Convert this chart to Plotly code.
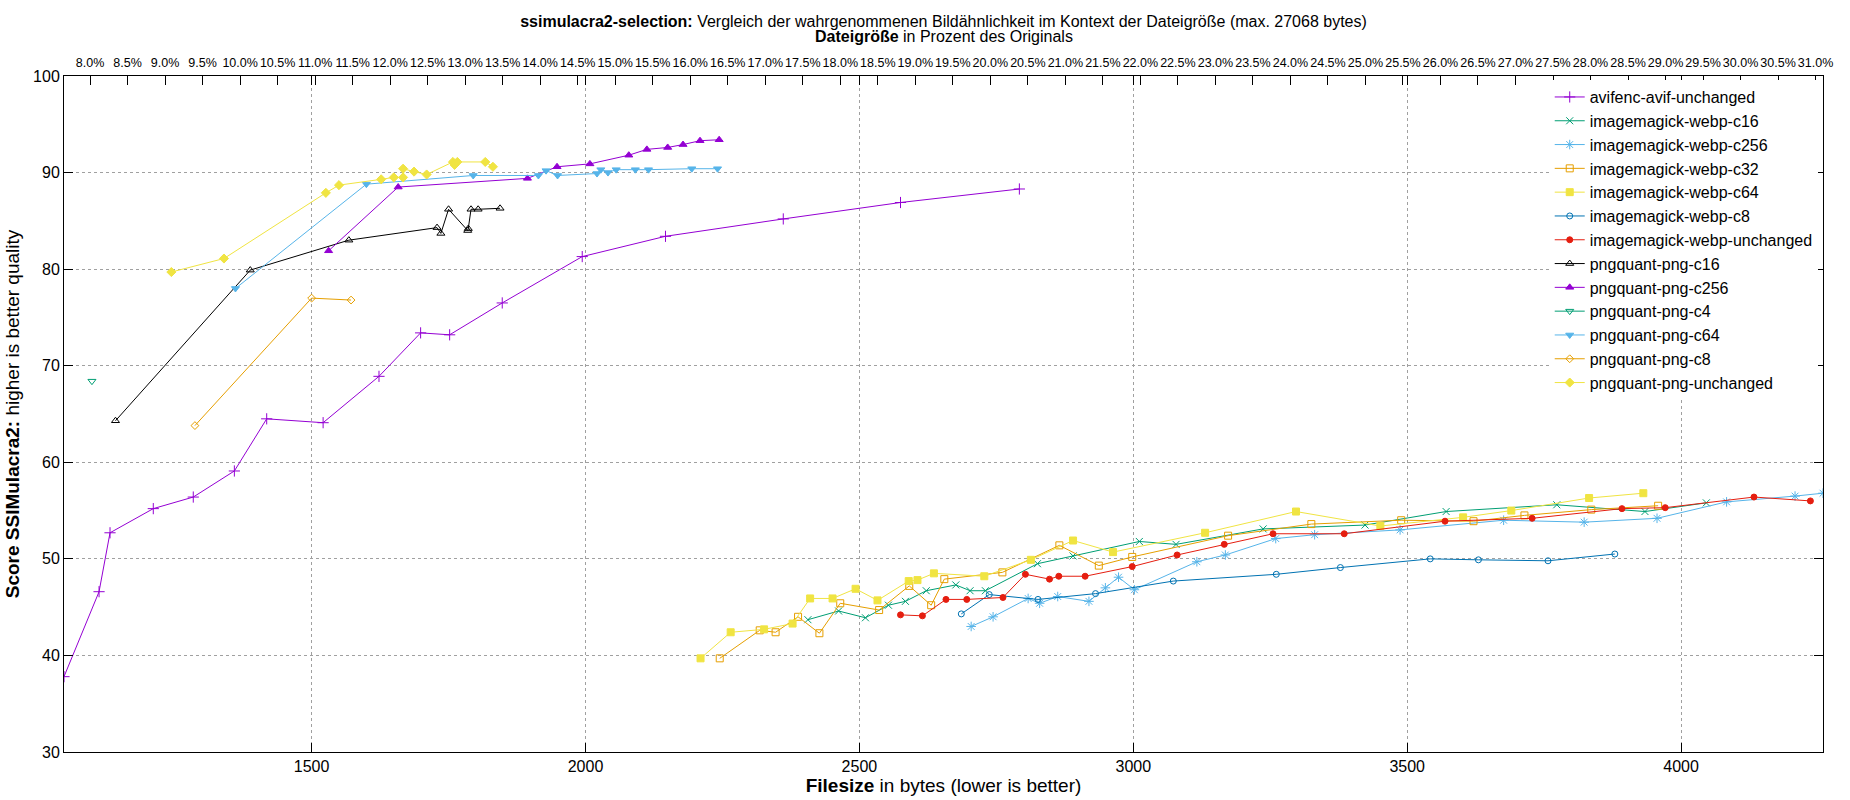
import plotly.graph_objects as go

# filesize in bytes / SSIMulacra2 score, one pair of lists per encoder setting
avif_unchanged_bytes = [1048, 1112, 1132, 1211, 1284, 1359, 1418, 1521, 1623, 1699, 1752, 1848, 1994, 2146, 2361, 2575, 2792]
avif_unchanged_score = [37.8, 46.6, 52.7, 55.2, 56.4, 59.1, 64.5, 64.1, 68.9, 73.4, 73.2, 76.5, 81.3, 83.4, 85.2, 86.9, 88.3]

webp_c16_bytes = [2406, 2462, 2511, 2553, 2584, 2622, 2676, 2702, 2730, 2825, 2890, 3011, 3078, 3237, 3423, 3571, 3773, 3934, 4046]
webp_c16_score = [43.7, 44.6, 43.9, 45.2, 45.6, 46.7, 47.3, 46.7, 46.7, 49.5, 50.3, 51.8, 51.5, 53.1, 53.5, 54.9, 55.6, 54.9, 55.8]

webp_c256_bytes = [2704, 2744, 2808, 2829, 2862, 2919, 2949, 2973, 3002, 3116, 3168, 3260, 3331, 3487, 3676, 3823, 3956, 4083, 4208, 4259]
webp_c256_score = [43.0, 44.0, 45.9, 45.4, 46.1, 45.6, 47.0, 48.1, 46.8, 49.7, 50.4, 52.1, 52.5, 53.0, 54.0, 53.8, 54.2, 55.9, 56.5, 56.8]

webp_c32_bytes = [2245, 2318, 2347, 2388, 2427, 2465, 2536, 2591, 2631, 2655, 2761, 2865, 2937, 2998, 3173, 3325, 3489, 3621, 3714, 3836, 3958]
webp_c32_score = [39.7, 42.6, 42.4, 44.0, 42.3, 45.4, 44.7, 47.2, 45.2, 47.9, 48.6, 51.4, 49.3, 50.2, 52.4, 53.6, 54.0, 53.9, 54.5, 55.1, 55.5]

webp_c64_bytes = [2210, 2265, 2326, 2378, 2410, 2451, 2493, 2533, 2590, 2606, 2636, 2728, 2813, 2890, 2963, 3131, 3297, 3451, 3602, 3690, 3832, 3931]
webp_c64_score = [39.7, 42.4, 42.7, 43.3, 45.9, 45.9, 46.9, 45.7, 47.7, 47.8, 48.5, 48.2, 49.9, 51.9, 50.7, 52.7, 54.9, 53.4, 54.3, 55.0, 56.3, 56.8]

webp_c8_bytes = [2686, 2737, 2826, 2931, 3073, 3261, 3378, 3542, 3630, 3757, 3879]
webp_c8_score = [44.3, 46.3, 45.8, 46.4, 47.7, 48.4, 49.1, 50.0, 49.9, 49.8, 50.5]

webp_unchanged_bytes = [2575, 2615, 2658, 2696, 2762, 2803, 2847, 2864, 2912, 2998, 3080, 3166, 3255, 3385, 3569, 3728, 3892, 3971, 4133, 4236]
webp_unchanged_score = [44.2, 44.1, 45.8, 45.8, 46.0, 48.4, 47.9, 48.2, 48.2, 49.2, 50.4, 51.5, 52.6, 52.6, 53.9, 54.2, 55.2, 55.3, 56.4, 56.0]

png_c16_bytes = [1142, 1388, 1568, 1729, 1736, 1750, 1785, 1786, 1791, 1804, 1844]
png_c16_score = [64.3, 79.9, 83.0, 84.3, 83.7, 86.2, 84.0, 84.2, 86.2, 86.2, 86.3]

png_c256_bytes = [1531, 1658, 1894, 1948, 2008, 2079, 2112, 2150, 2178, 2209, 2244]
png_c256_score = [81.9, 88.5, 89.4, 90.6, 90.9, 91.8, 92.4, 92.6, 92.9, 93.3, 93.4]

png_c4_bytes = [1099]
png_c4_score = [68.4]

png_c64_bytes = [1361, 1600, 1795, 1914, 1928, 1949, 2021, 2028, 2041, 2056, 2091, 2115, 2194, 2241]
png_c64_score = [78.0, 88.8, 89.7, 89.7, 90.2, 89.7, 89.9, 90.3, 90.0, 90.3, 90.3, 90.3, 90.4, 90.4]

png_c8_bytes = [1287, 1500, 1572]
png_c8_score = [63.8, 77.0, 76.8]

png_unchanged_bytes = [1244, 1340, 1526, 1550, 1627, 1650, 1667, 1667, 1687, 1710, 1758, 1761, 1766, 1817, 1831]
png_unchanged_score = [79.7, 81.1, 87.9, 88.7, 89.3, 89.5, 89.5, 90.4, 90.1, 89.8, 91.1, 90.8, 91.1, 91.1, 90.6]

# byte count the top percentage axis refers to
percent_base_bytes = 13695
pct_ticks = [8.0 + 0.5 * i for i in range(47)]

font = "Liberation Sans, Arial, sans-serif"

# name, x, y, colour, marker symbol, marker size (gnuplot point types 1..13)
series = [
    ("avifenc-avif-unchanged", avif_unchanged_bytes, avif_unchanged_score, "#9400d3", "cross-thin-open", 8),
    ("imagemagick-webp-c16", webp_c16_bytes, webp_c16_score, "#009e73", "x-thin-open", 7),
    ("imagemagick-webp-c256", webp_c256_bytes, webp_c256_score, "#56b4e9", "asterisk-open", 8),
    ("imagemagick-webp-c32", webp_c32_bytes, webp_c32_score, "#e69f00", "square-open", 7),
    ("imagemagick-webp-c64", webp_c64_bytes, webp_c64_score, "#f0e442", "square", 7),
    ("imagemagick-webp-c8", webp_c8_bytes, webp_c8_score, "#0072b2", "circle-open", 6),
    ("imagemagick-webp-unchanged", webp_unchanged_bytes, webp_unchanged_score, "#e51e10", "circle", 6),
    ("pngquant-png-c16", png_c16_bytes, png_c16_score, "#000000", "triangle-up-open", 7),
    ("pngquant-png-c256", png_c256_bytes, png_c256_score, "#9400d3", "triangle-up", 7),
    ("pngquant-png-c4", png_c4_bytes, png_c4_score, "#009e73", "triangle-down-open", 7),
    ("pngquant-png-c64", png_c64_bytes, png_c64_score, "#56b4e9", "triangle-down", 7),
    ("pngquant-png-c8", png_c8_bytes, png_c8_score, "#e69f00", "diamond-open", 6),
    ("pngquant-png-unchanged", png_unchanged_bytes, png_unchanged_score, "#f0e442", "diamond", 7),
]

fig = go.Figure()
for name, xs, ys, color, symbol, size in series:
    fig.add_trace(
        go.Scatter(
            x=xs,
            y=ys,
            mode="lines+markers",
            name=name,
            line=dict(color=color, width=1),
            marker=dict(symbol=symbol, size=size, color=color, line=dict(color=color, width=1)),
        )
    )

# autoscale x like gnuplot: exactly from smallest to largest file
all_x = [v for s in series for v in s[1]]
x_min, x_max = min(all_x), max(all_x)

# the same files on the percentage axis (invisible, only so the top axis is drawn)
fig.add_trace(
    go.Scatter(
        x=[v / percent_base_bytes * 100 for v in all_x],
        y=[v for s in series for v in s[2]],
        xaxis="x2",
        mode="markers",
        marker=dict(opacity=0),
        hoverinfo="skip",
        showlegend=False,
    )
)

axis_common = dict(
    ticks="inside",
    ticklen=9,
    tickcolor="black",
    zeroline=False,
    automargin=False,
)

fig.update_layout(
    width=1850,
    height=800,
    margin=dict(l=64, r=27, t=76, b=48),
    plot_bgcolor="white",
    paper_bgcolor="white",
    font=dict(family=font, size=16, color="black"),
    title=dict(
        text="<b>ssimulacra2-selection:</b> Vergleich der wahrgenommenen Bildähnlichkeit im Kontext der Dateigröße (max. 27068 bytes)",
        x=0.5,
        xref="paper",
        xanchor="center",
        y=1 - 21 / 800,
        yref="container",
        yanchor="middle",
        font=dict(size=16),
        automargin=False,
    ),
    xaxis=dict(
        range=[x_min, x_max],
        dtick=500,
        tick0=1500,
        showline=True,
        linecolor="black",
        linewidth=1,
        mirror="ticks",
        showgrid=True,
        gridcolor="#a0a0a0",
        griddash="dot",
        gridwidth=1,
        title=dict(text="<b>Filesize</b> in bytes (lower is better)", standoff=4),
        **axis_common,
    ),
    xaxis2=dict(
        overlaying="x",
        side="top",
        anchor="y",
        range=[x_min / percent_base_bytes * 100, x_max / percent_base_bytes * 100],
        tickmode="array",
        tickvals=pct_ticks,
        ticktext=["%.1f%%" % v for v in pct_ticks],
        tickangle=0,
        tickfont=dict(size=12.5),
        showgrid=False,
        showline=False,
        ticklabelstandoff=6,
        **axis_common,
    ),
    yaxis=dict(
        range=[30, 100],
        dtick=10,
        showline=True,
        linecolor="black",
        linewidth=1,
        mirror="ticks",
        showgrid=True,
        gridcolor="#a0a0a0",
        griddash="dot",
        gridwidth=1,
        title=dict(text="<b>Score SSIMulacra2:</b> higher is better quality", standoff=8),
        **axis_common,
    ),
    legend=dict(
        x=0.997,
        xanchor="right",
        y=0.994,
        yanchor="top",
        bgcolor="white",
        borderwidth=0,
        font=dict(size=16),
        tracegroupgap=0,
    ),
    annotations=[
        dict(
            text="<b>Dateigröße</b> in Prozent des Originals",
            xref="paper",
            yref="paper",
            x=0.5,
            y=(752 - 37) / 676,
            xanchor="center",
            yanchor="middle",
            showarrow=False,
            font=dict(size=16),
        )
    ],
)

# drop the browser's default 8px body margin so the figure sits at the window origin
fig.write_html(
    "out.html",
    config={"displayModeBar": False},
    post_script="document.body.style.margin='0';document.body.style.overflow='hidden';",
)
